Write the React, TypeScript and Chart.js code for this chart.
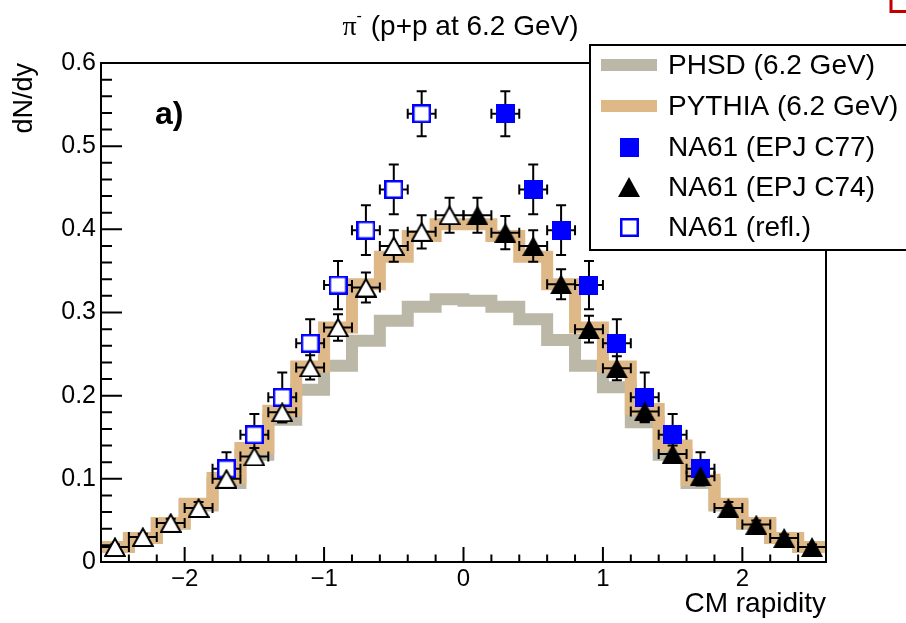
import React, { useEffect, useRef } from 'react';
import { Chart, registerables } from 'chart.js';

Chart.register(...registerables);

// ---------------- data ----------------
const BIN_CENTERS = [-2.5, -2.3, -2.1, -1.9, -1.7, -1.5, -1.3, -1.1, -0.9, -0.7, -0.5, -0.3, -0.1,
  0.1, 0.3, 0.5, 0.7, 0.9, 1.1, 1.3, 1.5, 1.7, 1.9, 2.1, 2.3, 2.5];
const BIN_HALF_WIDTH = 0.1;

const PHSD_VALUES = [0.018, 0.029, 0.046, 0.068, 0.095, 0.129, 0.171, 0.207, 0.236, 0.266, 0.290, 0.307, 0.316,
  0.314, 0.307, 0.292, 0.267, 0.236, 0.210, 0.168, 0.129, 0.095, 0.068, 0.046, 0.029, 0.018];
const PYTHIA_VALUES = [0.018, 0.029, 0.047, 0.070, 0.101, 0.137, 0.182, 0.235, 0.282, 0.334, 0.367, 0.392, 0.406,
  0.406, 0.392, 0.367, 0.334, 0.282, 0.235, 0.184, 0.140, 0.099, 0.070, 0.047, 0.029, 0.018];

const C77_X = [0.3, 0.5, 0.7, 0.9, 1.1, 1.3, 1.5, 1.7];
const C77_Y = [0.539, 0.448, 0.399, 0.333, 0.263, 0.198, 0.153, 0.112];
const C77_ERR = [0.027, 0.030, 0.030, 0.029, 0.029, 0.030, 0.025, 0.020];

const C74_X = [0.1, 0.3, 0.5, 0.7, 0.9, 1.1, 1.3, 1.5, 1.7, 1.9, 2.1, 2.3, 2.5];
const C74_Y = [0.417, 0.396, 0.380, 0.334, 0.280, 0.233, 0.181, 0.130, 0.103, 0.065, 0.045, 0.029, 0.018];
const C74_ERR = [0.021, 0.020, 0.019, 0.018, 0.016, 0.0145, 0.012, 0.010, 0.009, 0.007, 0.005, 0.004, 0.003];

const REFL_SQ_X = [-1.7, -1.5, -1.3, -1.1, -0.9, -0.7, -0.5, -0.3];
const REFL_SQ_Y = [0.112, 0.153, 0.198, 0.263, 0.333, 0.399, 0.448, 0.539];
const REFL_SQ_ERR = [0.020, 0.025, 0.030, 0.029, 0.029, 0.030, 0.030, 0.027];

const REFL_TRI_X = [-2.5, -2.3, -2.1, -1.9, -1.7, -1.5, -1.3, -1.1, -0.9, -0.7, -0.5, -0.3, -0.1];
const REFL_TRI_Y = [0.018, 0.030, 0.047, 0.065, 0.100, 0.127, 0.180, 0.234, 0.282, 0.330, 0.380, 0.397, 0.417];
const REFL_TRI_ERR = [0.003, 0.004, 0.005, 0.007, 0.009, 0.010, 0.012, 0.0145, 0.016, 0.018, 0.019, 0.020, 0.021];

const X_RANGE = [-2.6, 2.6];
const Y_RANGE = [0, 0.6];
const X_MAJOR = 1;
const X_MINOR = 0.2;
const Y_MAJOR = 0.1;
const Y_MINOR = 0.02;

const TITLE_PARTICLE = 'π';
const TITLE_CHARGE = '-';
const TITLE_REST = ' (p+p at 6.2 GeV)';
const PANEL_LABEL = 'a)';
const X_TITLE = 'CM rapidity';
const Y_TITLE = 'dN/dy';
const LEGEND_LABELS = ['PHSD (6.2 GeV)', 'PYTHIA (6.2 GeV)', 'NA61 (EPJ C77)', 'NA61 (EPJ C74)', 'NA61 (refl.)'];

// ---------------- styles ----------------
const FONT = '"Liberation Sans", Arial, Helvetica, sans-serif';
const PHSD_COLOR = 'rgb(188,184,167)';
const PYTHIA_COLOR = 'rgb(222,184,135)';
const BLUE = '#0000ff';

function makeMarker(kind: string): HTMLCanvasElement {
  const c = document.createElement('canvas');
  const ctx = c.getContext('2d') as CanvasRenderingContext2D;
  if (kind === 'sq' || kind === 'osq') {
    c.width = 19; c.height = 19;
    if (kind === 'sq') {
      ctx.fillStyle = BLUE;
      ctx.fillRect(0, 0, 19, 19);
    } else {
      ctx.fillStyle = '#fff';
      ctx.fillRect(0, 0, 19, 19);
      ctx.strokeStyle = BLUE;
      ctx.lineWidth = 2.5;
      ctx.strokeRect(1.25, 1.25, 16.5, 16.5);
    }
  } else {
    c.width = 22; c.height = 20;
    ctx.beginPath();
    if (kind === 'tri') {
      ctx.moveTo(11, 0); ctx.lineTo(22, 20); ctx.lineTo(0, 20); ctx.closePath();
      ctx.fillStyle = '#000';
      ctx.fill();
    } else {
      ctx.moveTo(11, 1.5); ctx.lineTo(20.8, 19); ctx.lineTo(1.2, 19); ctx.closePath();
      ctx.fillStyle = '#fff';
      ctx.fill();
      ctx.strokeStyle = '#000';
      ctx.lineWidth = 2;
      ctx.lineJoin = 'miter';
      ctx.stroke();
    }
  }
  return c;
}

function histPoints(values: number[]) {
  const pts = values.map((v, i) => ({ x: BIN_CENTERS[i] - BIN_HALF_WIDTH, y: v }));
  const last = values.length - 1;
  pts.push({ x: BIN_CENTERS[last] + BIN_HALF_WIDTH, y: values[last] });
  return pts;
}

function pts(xs: number[], ys: number[]) {
  return xs.map((x, i) => ({ x, y: ys[i] }));
}

const ERROR_SERIES = [
  { xs: C77_X, ys: C77_Y, errs: C77_ERR },
  { xs: REFL_SQ_X, ys: REFL_SQ_Y, errs: REFL_SQ_ERR },
  { xs: C74_X, ys: C74_Y, errs: C74_ERR },
  { xs: REFL_TRI_X, ys: REFL_TRI_Y, errs: REFL_TRI_ERR },
];

export default function App() {
  const ref = useRef<HTMLCanvasElement | null>(null);

  useEffect(() => {
    document.body.style.margin = '0';
    const canvas = ref.current;
    if (!canvas) return;

    const mSq = makeMarker('sq');
    const mOsq = makeMarker('osq');
    const mTri = makeMarker('tri');
    const mOtri = makeMarker('otri');

    const rootPlugin = {
      id: 'rootStyle',
      afterDatasetDraw(chart: any, args: any) {
        if (args.index !== 1) return; // after PYTHIA histogram: draw error bars
        const ctx = chart.ctx as CanvasRenderingContext2D;
        const xs = chart.scales.x, ys = chart.scales.y;
        ctx.save();
        ctx.strokeStyle = '#000';
        ctx.lineWidth = 2;
        const cap = 5;
        for (const s of ERROR_SERIES) {
          s.xs.forEach((xv: number, i: number) => {
            const px = xs.getPixelForValue(xv);
            const py = ys.getPixelForValue(s.ys[i]);
            const top = ys.getPixelForValue(s.ys[i] + s.errs[i]);
            const bot = ys.getPixelForValue(s.ys[i] - s.errs[i]);
            const l = xs.getPixelForValue(xv - BIN_HALF_WIDTH);
            const r = xs.getPixelForValue(xv + BIN_HALF_WIDTH);
            ctx.beginPath();
            ctx.moveTo(px, top); ctx.lineTo(px, bot);
            ctx.moveTo(px - cap, top); ctx.lineTo(px + cap, top);
            ctx.moveTo(px - cap, bot); ctx.lineTo(px + cap, bot);
            ctx.moveTo(l, py); ctx.lineTo(r, py);
            ctx.moveTo(l, py - cap); ctx.lineTo(l, py + cap);
            ctx.moveTo(r, py - cap); ctx.lineTo(r, py + cap);
            ctx.stroke();
          });
        }
        ctx.restore();
      },
      afterDatasetsDraw(chart: any) {
        const ctx = chart.ctx as CanvasRenderingContext2D;
        const { left, right, top, bottom } = chart.chartArea;
        const xs = chart.scales.x, ys = chart.scales.y;
        ctx.save();
        ctx.strokeStyle = '#000';
        ctx.lineWidth = 2;
        ctx.strokeRect(left, top, right - left, bottom - top);
        ctx.beginPath();
        const nx = Math.round((X_RANGE[1] - X_RANGE[0]) / X_MINOR);
        for (let k = 1; k < nx; k++) {
          const v = X_RANGE[0] + k * X_MINOR;
          const isMajor = Math.abs(v / X_MAJOR - Math.round(v / X_MAJOR)) < 1e-6;
          const px = xs.getPixelForValue(v);
          const len = isMajor ? 15 : 7.5;
          ctx.moveTo(px, bottom); ctx.lineTo(px, bottom - len);
        }
        const ny = Math.round((Y_RANGE[1] - Y_RANGE[0]) / Y_MINOR);
        for (let k = 1; k < ny; k++) {
          const v = Y_RANGE[0] + k * Y_MINOR;
          const isMajor = Math.abs(v / Y_MAJOR - Math.round(v / Y_MAJOR)) < 1e-6;
          const py = ys.getPixelForValue(v);
          const len = isMajor ? 21 : 11;
          ctx.moveTo(left, py); ctx.lineTo(left + len, py);
        }
        ctx.stroke();
        ctx.restore();
      },
      afterDraw(chart: any) {
        const ctx = chart.ctx as CanvasRenderingContext2D;
        const { left, right } = chart.chartArea;
        ctx.save();
        // title
        ctx.fillStyle = '#000';
        ctx.textBaseline = 'alphabetic';
        ctx.textAlign = 'left';
        const fPi = '28px "Liberation Serif", "DejaVu Serif", serif';
        const fCh = '16px ' + FONT;
        const fRest = '28px ' + FONT;
        ctx.font = fPi; const wPi = ctx.measureText(TITLE_PARTICLE).width;
        ctx.font = fCh; const wCh = ctx.measureText(TITLE_CHARGE).width;
        ctx.font = fRest; const wRest = ctx.measureText(TITLE_REST).width;
        const total = wPi + wCh + 1 + wRest;
        let tx = (left + right) / 2 - total / 2 - 3;
        const base = 35;
        ctx.font = fPi; ctx.fillText(TITLE_PARTICLE, tx, base); tx += wPi;
        ctx.font = fCh; ctx.fillText(TITLE_CHARGE, tx, base - 14); tx += wCh + 1;
        ctx.font = fRest; ctx.fillText(TITLE_REST, tx, base);

        // panel label
        ctx.font = 'bold 32px ' + FONT;
        ctx.fillText(PANEL_LABEL, 155, 124);

        // legend
        const lx = 590, ly = 45, lw = 340, lh = 205;
        ctx.fillStyle = '#fff';
        ctx.fillRect(lx, ly, lw, lh);
        ctx.strokeStyle = '#000';
        ctx.lineWidth = 2;
        ctx.strokeRect(lx, ly, lw, lh);
        const rows = [65, 106, 147, 187, 227];
        ctx.fillStyle = PHSD_COLOR;
        ctx.fillRect(601, rows[0] - 6, 56, 12);
        ctx.fillStyle = PYTHIA_COLOR;
        ctx.fillRect(601, rows[1] - 6, 56, 12);
        const mk = [null, null, mSq, mTri, mOsq];
        mk.forEach((m, i) => {
          if (m) ctx.drawImage(m as HTMLCanvasElement, Math.round(629 - m.width / 2), Math.round(rows[i] - m.height / 2));
        });
        ctx.fillStyle = '#000';
        ctx.font = '28px ' + FONT;
        ctx.textBaseline = 'middle';
        LEGEND_LABELS.forEach((t, i) => ctx.fillText(t, 668, rows[i] + 1));

        // red corner mark
        ctx.strokeStyle = '#c00000';
        ctx.lineWidth = 3;
        ctx.beginPath();
        ctx.moveTo(891, 0); ctx.lineTo(891, 11.5); ctx.lineTo(906, 11.5);
        ctx.stroke();
        ctx.restore();
      },
    };

    const chart = new Chart(canvas, {
      type: 'scatter',
      data: {
        datasets: [
          {
            type: 'line', label: LEGEND_LABELS[0], data: histPoints(PHSD_VALUES), order: 10,
            borderColor: PHSD_COLOR, borderWidth: 12, stepped: 'before', pointRadius: 0, fill: false,
            borderJoinStyle: 'miter', borderCapStyle: 'butt', tension: 0,
          },
          {
            type: 'line', label: LEGEND_LABELS[1], data: histPoints(PYTHIA_VALUES), order: 9,
            borderColor: PYTHIA_COLOR, borderWidth: 12, stepped: 'before', pointRadius: 0, fill: false,
            borderJoinStyle: 'miter', borderCapStyle: 'butt', tension: 0,
          },
          {
            label: LEGEND_LABELS[2], data: pts(C77_X, C77_Y), order: 4,
            pointStyle: mSq, pointRadius: 10, showLine: false,
          },
          {
            label: LEGEND_LABELS[3], data: pts(C74_X, C74_Y), order: 3,
            pointStyle: mTri, pointRadius: 10, showLine: false,
          },
          {
            label: LEGEND_LABELS[4], data: pts(REFL_SQ_X, REFL_SQ_Y), order: 2,
            pointStyle: mOsq, pointRadius: 10, showLine: false,
          },
          {
            label: LEGEND_LABELS[4] + ' C74', data: pts(REFL_TRI_X, REFL_TRI_Y), order: 1,
            pointStyle: mOtri, pointRadius: 10, showLine: false,
          },
        ] as any,
      },
      options: {
        responsive: false,
        animation: false,
        devicePixelRatio: 1,
        events: [],
        layout: { padding: { top: 63, right: 80, bottom: 0, left: 0 } },
        plugins: { legend: { display: false }, tooltip: { enabled: false }, title: { display: false } },
        scales: {
          x: {
            type: 'linear', min: X_RANGE[0], max: X_RANGE[1],
            grid: { display: false, drawTicks: false }, border: { display: false },
            ticks: {
              stepSize: X_MAJOR, includeBounds: false, autoSkip: false, maxRotation: 0, minRotation: 0,
              padding: 3, color: '#000', font: { size: 24, family: FONT },
              callback: (v: any) => (Number(v) < 0 ? '\u2212' + Math.abs(Number(v)) : String(Number(v))),
            },
            title: { display: true, text: X_TITLE, align: 'end', color: '#000', font: { size: 28, family: FONT }, padding: { top: 0, bottom: 2 } },
            afterFit: (s: any) => { s.height = 61; },
          },
          y: {
            type: 'linear', min: Y_RANGE[0], max: Y_RANGE[1],
            grid: { display: false, drawTicks: false }, border: { display: false },
            ticks: {
              stepSize: Y_MAJOR, includeBounds: false, padding: 5, color: '#000', font: { size: 25, family: FONT },
              callback: (v: any) => (Math.abs(Number(v)) < 1e-9 ? '0' : Number(v).toFixed(1)),
            },
            title: { display: true, text: Y_TITLE, align: 'end', color: '#000', font: { size: 27, family: FONT }, padding: { top: 8, bottom: 0 } },
            afterFit: (s: any) => { s.width = 101; },
          },
        },
      } as any,
      plugins: [rootPlugin as any],
    });

    return () => chart.destroy();
  }, []);

  return (
    <div style={{ position: 'absolute', left: 0, top: 0, width: 906, height: 623, background: '#fff' }}>
      <canvas ref={ref} width={906} height={623} style={{ display: 'block', width: 906, height: 623 }} />
    </div>
  );
}
